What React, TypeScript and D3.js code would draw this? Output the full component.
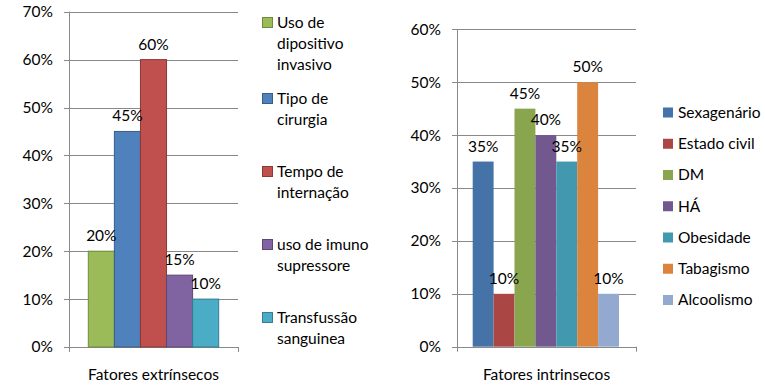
import { useRef, useEffect } from "react";
import * as d3 from "d3";

// Left chart: extrinsic factors
const extCategories = [
  "Uso de dipositivo invasivo",
  "Tipo de cirurgia",
  "Tempo de internação",
  "uso de imuno supressore",
  "Transfussão sanguinea",
];
const extValues = [0.2, 0.45, 0.6, 0.15, 0.1];
const extLegendLines = [
  ["Uso de", "dipositivo", "invasivo"],
  ["Tipo de", "cirurgia"],
  ["Tempo de", "internação"],
  ["uso de imuno", "supressore"],
  ["Transfussão", "sanguinea"],
];
const extColors = ["#9BBB59", "#4F81BD", "#C0504D", "#8064A2", "#4BACC6"];
const extBorders = ["#71893F", "#385D8A", "#8C3836", "#5C4776", "#357D91"];
const extTicks = [0, 0.1, 0.2, 0.3, 0.4, 0.5, 0.6, 0.7];

// Right chart: intrinsic factors
const intCategories = [
  "Sexagenário",
  "Estado civil",
  "DM",
  "HÁ",
  "Obesidade",
  "Tabagismo",
  "Alcoolismo",
];
const intValues = [0.35, 0.1, 0.45, 0.4, 0.35, 0.5, 0.1];
const intColors = ["#4572A7", "#AA4643", "#89A54E", "#71588F", "#4198AF", "#DB843D", "#93A9CF"];
const intTicks = [0, 0.1, 0.2, 0.3, 0.4, 0.5, 0.6];

const FONT = "Lato, 'Liberation Sans', sans-serif";
const FS = 15.5;
const GRID = "#898989";

export default function App() {
  const ref = useRef<SVGSVGElement | null>(null);

  useEffect(() => {
    if (!ref.current) return;
    const svg = d3.select(ref.current);
    svg.selectAll("*").remove();
    const pct = d3.format(".0%");

    // ---------- left chart ----------
    {
      const left = 69, right = 238, top = 11.7, bottom = 347;
      const y = d3.scaleLinear().domain([0, 0.7]).range([bottom, top]);
      const x = d3.scaleBand<string>().domain(extCategories).range([88.3, 218.7]).padding(0);
      const g = svg.append("g");

      g.selectAll("line.grid")
        .data(extTicks)
        .join("line")
        .attr("x1", left - 5)
        .attr("x2", right)
        .attr("y1", (d) => Math.round(y(d)) + 0.5)
        .attr("y2", (d) => Math.round(y(d)) + 0.5)
        .attr("stroke", GRID);
      g.append("line")
        .attr("x1", left + 0.5).attr("x2", left + 0.5)
        .attr("y1", y(0.7)).attr("y2", bottom + 5)
        .attr("stroke", GRID);
      g.append("line")
        .attr("x1", right + 0.5).attr("x2", right + 0.5)
        .attr("y1", bottom).attr("y2", bottom + 5)
        .attr("stroke", GRID);

      g.selectAll("text.tick")
        .data(extTicks)
        .join("text")
        .attr("x", left - 16)
        .attr("y", (d) => y(d))
        .attr("dy", "0.35em")
        .attr("text-anchor", "end")
        .attr("font-family", FONT)
        .attr("font-size", FS)
        .text((d) => pct(d));

      g.selectAll("rect.bar")
        .data(extValues)
        .join("rect")
        .attr("x", (_, i) => x(extCategories[i])!)
        .attr("y", (d) => y(d))
        .attr("width", x.bandwidth())
        .attr("height", (d) => y(0) - y(d))
        .attr("fill", (_, i) => extColors[i])
        .attr("stroke", (_, i) => extBorders[i])
        .attr("stroke-width", 1);

      g.selectAll("text.val")
        .data(extValues)
        .join("text")
        .attr("x", (_, i) => x(extCategories[i])! + x.bandwidth() / 2)
        .attr("y", (d) => y(d) - 10)
        .attr("text-anchor", "middle")
        .attr("font-family", FONT)
        .attr("font-size", FS)
        .text((d) => pct(d));

      g.append("text")
        .attr("x", (left + right) / 2)
        .attr("y", 380)
        .attr("text-anchor", "middle")
        .attr("font-family", FONT)
        .attr("font-size", FS)
        .text("Fatores extrínsecos");

      // legend
      const starts = [23, 99, 172, 245, 318];
      extLegendLines.forEach((lines, i) => {
        g.append("rect")
          .attr("x", 262.5).attr("y", starts[i] - 5.5)
          .attr("width", 10).attr("height", 10)
          .attr("fill", extColors[i])
          .attr("stroke", extBorders[i]);
        lines.forEach((t, j) => {
          g.append("text")
            .attr("x", 277)
            .attr("y", starts[i] + j * 21)
            .attr("dy", "0.35em")
            .attr("font-family", FONT)
            .attr("font-size", FS)
            .text(t);
        });
      });
    }

    // ---------- right chart ----------
    {
      const left = 457, right = 636, top = 29.3, bottom = 346.7;
      const y = d3.scaleLinear().domain([0, 0.6]).range([bottom, top]);
      const x = d3.scaleBand<string>().domain(intCategories).range([472.7, 619]).padding(0);
      const g = svg.append("g");

      g.selectAll("line.grid")
        .data(intTicks)
        .join("line")
        .attr("x1", left - 5)
        .attr("x2", right)
        .attr("y1", (d) => Math.round(y(d)) + 0.5)
        .attr("y2", (d) => Math.round(y(d)) + 0.5)
        .attr("stroke", GRID);
      g.append("line")
        .attr("x1", left + 0.5).attr("x2", left + 0.5)
        .attr("y1", y(0.6)).attr("y2", bottom + 5)
        .attr("stroke", GRID);
      g.append("line")
        .attr("x1", right + 0.5).attr("x2", right + 0.5)
        .attr("y1", bottom).attr("y2", bottom + 5)
        .attr("stroke", GRID);

      g.selectAll("text.tick")
        .data(intTicks)
        .join("text")
        .attr("x", left - 16)
        .attr("y", (d) => y(d))
        .attr("dy", "0.35em")
        .attr("text-anchor", "end")
        .attr("font-family", FONT)
        .attr("font-size", FS)
        .text((d) => pct(d));

      g.selectAll("rect.bar")
        .data(intValues)
        .join("rect")
        .attr("x", (_, i) => x(intCategories[i])!)
        .attr("y", (d) => y(d))
        .attr("width", x.bandwidth())
        .attr("height", (d) => y(0) - y(d))
        .attr("fill", (_, i) => intColors[i]);

      g.selectAll("text.val")
        .data(intValues)
        .join("text")
        .attr("x", (_, i) => x(intCategories[i])! + x.bandwidth() / 2)
        .attr("y", (d) => y(d) - 10)
        .attr("text-anchor", "middle")
        .attr("font-family", FONT)
        .attr("font-size", FS)
        .text((d) => pct(d));

      g.append("text")
        .attr("x", (left + right) / 2)
        .attr("y", 380)
        .attr("text-anchor", "middle")
        .attr("font-family", FONT)
        .attr("font-size", FS)
        .text("Fatores intrinsecos");

      const ly = d3.scalePoint<string>().domain(intCategories).range([112.5, 300]);
      intCategories.forEach((c, i) => {
        g.append("rect")
          .attr("x", 663).attr("y", ly(c)! - 5)
          .attr("width", 10).attr("height", 10)
          .attr("fill", intColors[i]);
        g.append("text")
          .attr("x", 678)
          .attr("y", ly(c)!)
          .attr("dy", "0.35em")
          .attr("font-family", FONT)
          .attr("font-size", FS)
          .text(c);
      });
    }
  }, []);

  return (
    <svg
      ref={ref}
      width={765}
      height={392}
      style={{ position: "absolute", left: 0, top: 0, background: "#fff" }}
    />
  );
}
